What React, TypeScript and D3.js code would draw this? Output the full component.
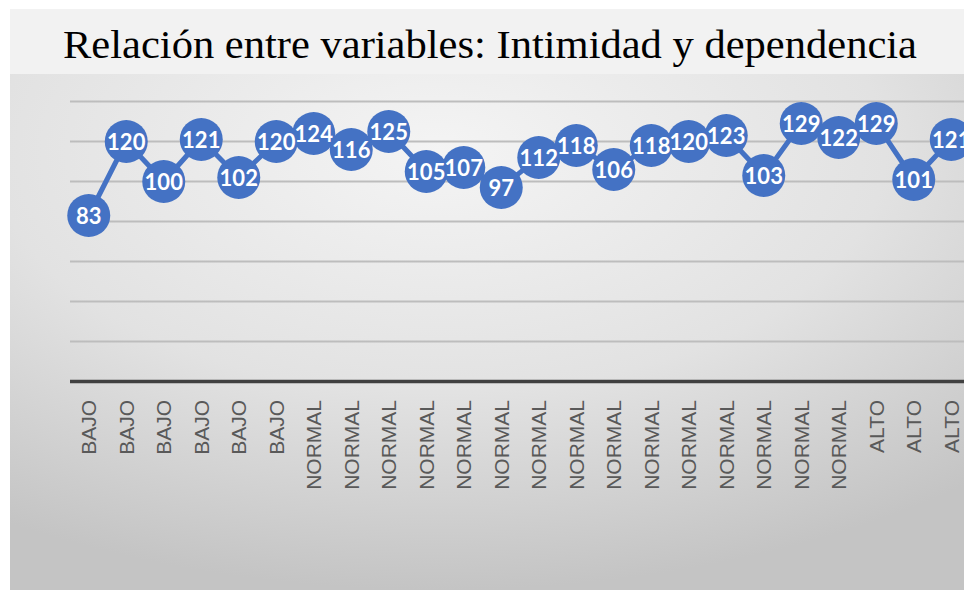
import React from "react";
import * as d3 from "d3";

const TITLE = "Relación entre variables: Intimidad y dependencia";
const categories = [
  "BAJO", "BAJO", "BAJO", "BAJO", "BAJO", "BAJO",
  "NORMAL", "NORMAL", "NORMAL", "NORMAL", "NORMAL", "NORMAL", "NORMAL", "NORMAL",
  "NORMAL", "NORMAL", "NORMAL", "NORMAL", "NORMAL", "NORMAL", "NORMAL",
  "ALTO", "ALTO", "ALTO",
];
const values = [83, 120, 100, 121, 102, 120, 124, 116, 125, 105, 107, 97, 112, 118, 106, 118, 120, 123, 103, 129, 122, 129, 101, 121];
const gridTicks = [20, 40, 60, 80, 100, 120, 140];

const W = 964;
const H = 590;
const BLUE = "#4472C4";

export default function App() {
  const idx = categories.map((_, i) => String(i));
  const x = d3.scaleBand<string>().domain(idx).range([70, 70 + 24 * 37.5]).paddingInner(0).paddingOuter(0);
  const y = d3.scaleLinear().domain([0, 160]).range([381.5, 61.5]);
  const cx = (i: number) => (x(String(i)) as number) + x.bandwidth() / 2;
  const line = d3.line<number>().x((_, i) => cx(i)).y((d) => y(d));

  return (
    <svg width={W} height={H} style={{ position: "absolute", left: 0, top: 0 }}>
      <defs>
        <radialGradient id="bg" cx="0.45" cy="0.15" r="0.85" fx="0.45" fy="0.15">
          <stop offset="0" stopColor="#f4f4f4" />
          <stop offset="0.55" stopColor="#e2e2e2" />
          <stop offset="1" stopColor="#c4c4c4" />
        </radialGradient>
        <clipPath id="clip">
          <rect x={10} y={74} width={W - 10} height={H - 74} />
        </clipPath>
      </defs>
      <rect x={0} y={0} width={W} height={H} fill="#ffffff" />
      <rect x={10} y={9} width={W - 10} height={65} fill="#f2f2f2" />
      <rect x={10} y={74} width={W - 10} height={H - 74} fill="url(#bg)" />
      <g clipPath="url(#clip)">
        {gridTicks.map((t) => (
          <line key={t} x1={70} x2={W} y1={y(t)} y2={y(t)} stroke="#bdbdbd" strokeWidth={2} />
        ))}
        <line x1={70} x2={W} y1={y(0)} y2={y(0)} stroke="#404040" strokeWidth={3.5} />
        <path d={line(values) || ""} fill="none" stroke={BLUE} strokeWidth={5} strokeLinejoin="round" />
        {values.map((v, i) => (
          <circle key={"c" + i} cx={cx(i)} cy={y(v)} r={21.5} fill={BLUE} />
        ))}
        {values.map((v, i) => (
          <text
            key={"t" + i}
            x={cx(i)}
            y={y(v)}
            textAnchor="middle"
            dominantBaseline="central"
            fill="#ffffff"
            fontFamily="Lato, 'Open Sans', sans-serif"
            fontWeight={700}
            fontSize={22}
          >
            {v}
          </text>
        ))}
        {categories.map((c, i) => (
          <text
            key={"a" + i}
            transform={`translate(${cx(i)},400) rotate(-90)`}
            textAnchor="end"
            dominantBaseline="central"
            fill="#595959"
            fontFamily="'Liberation Sans', Arial, sans-serif"
            fontSize={21}
          >
            {c}
          </text>
        ))}
      </g>
      <text
        x={63}
        y={58}
        textAnchor="start"
        textLength={854}
        lengthAdjust="spacingAndGlyphs"
        fill="#000000"
        fontFamily="'Liberation Serif', 'Times New Roman', serif"
        fontSize={40}
      >
        {TITLE}
      </text>
    </svg>
  );
}
